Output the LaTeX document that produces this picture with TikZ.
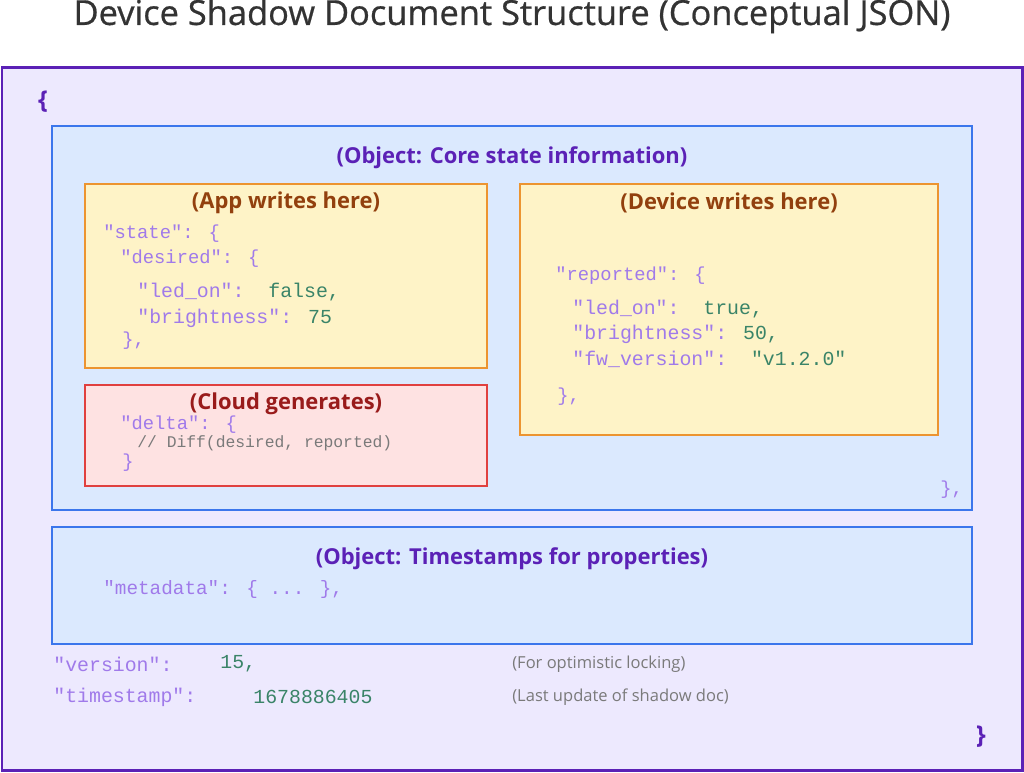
\documentclass[tikz,border=0pt]{standalone}
\usepackage{fontspec}
\setmainfont{Open Sans}
\newfontfamily\codefont{Liberation Mono}
\newfontfamily\titlefont{Open Sans}[FakeBold=0.6]
\usepackage{xcolor}
\definecolor{frameline}{HTML}{5B21B6}
\definecolor{framefill}{HTML}{EDE9FE}
\definecolor{objline}{HTML}{3B76EC}
\definecolor{objfill}{HTML}{DBE9FE}
\definecolor{writeline}{HTML}{EC9430}
\definecolor{writefill}{HTML}{FEF3C7}
\definecolor{writetext}{HTML}{92400E}
\definecolor{cloudline}{HTML}{E0403F}
\definecolor{cloudfill}{HTML}{FEE2E2}
\definecolor{cloudtext}{HTML}{991B1B}
\definecolor{jkeycol}{HTML}{A07AEA}
\definecolor{jvalcol}{HTML}{3A8468}
\definecolor{notecol}{HTML}{7A7A7A}
\newcommand\jk[1]{\textcolor{jkeycol}{#1}}
\newcommand\jv[1]{\textcolor{jvalcol}{#1}}
\usepackage{tikz}

\begin{document}
\begin{tikzpicture}[x=0.02cm, y=-0.02cm,
    heading/.style={font=\fontsize{12.5}{14}\selectfont\bfseries, text=frameline},
    writehead/.style={heading, text=writetext},
    code/.style={anchor=west, inner sep=0pt, font=\codefont\fontsize{10.7}{12}\selectfont},
    codebig/.style={code, font=\codefont\fontsize{11.3}{13}\selectfont},
    note/.style={anchor=west, inner sep=0pt, text=notecol, font=\fontsize{9.4}{11}\selectfont},
    brace/.style={text=frameline, font=\fontsize{14}{16}\selectfont\bfseries}]
    \useasboundingbox (0,0) rectangle (1024,772);
    \fill[white] (0,0) rectangle (1024,772);
    \node[text=black!80, font=\titlefont\fontsize{19.6}{22}\selectfont] (title) at (512,16) {Device Shadow Document Structure (Conceptual JSON)};
    % boxes
    \draw[frameline, fill=framefill, line width=1.7pt] (2,67) rectangle (1022,770);
    \draw[objline, fill=objfill, line width=1.1pt] (52,126) rectangle (972,510);
    \draw[writeline, fill=writefill, line width=0.85pt] (85,184) rectangle (487,368);
    \draw[writeline, fill=writefill, line width=0.85pt] (520,184) rectangle (938,435);
    \draw[cloudline, fill=cloudfill, line width=0.85pt] (85,385) rectangle (487,486);
    \draw[objline, fill=objfill, line width=1.1pt] (52,527) rectangle (972,644);
    \node[brace] (open) at (43,102) {\{};
    \node[brace] (close) at (981,737) {\}};
    % headings
    \node[heading] (corehead) at (512,158) {(Object: Core state information)};
    \node[writehead] (apphead) at (286,203) {(App writes here)};
    \node[writehead] (devhead) at (729,203) {(Device writes here)};
    \node[heading, text=cloudtext] (cloudhead) at (286,404) {(Cloud generates)};
    \node[heading] (metahead) at (512,559) {(Object: Timestamps for properties)};
    % desired
    \node[code] (state) at (103,234) {\jk{"state": \{}};
    \node[code] (desired) at (120,259) {\jk{"desired": \{}};
    \node[codebig] (dled) at (137,292) {\jk{"led\_on":}\ \ \jv{false,}};
    \node[codebig] (dbright) at (137,318) {\jk{"brightness":} \jv{75}};
    \node[code] (dend) at (122,341) {\jk{\},}};
    % reported
    \node[code] (reported) at (555,276) {\jk{"reported": \{}};
    \node[codebig] (rled) at (572,309) {\jk{"led\_on":}\ \ \jv{true,}};
    \node[codebig] (rbright) at (572,334) {\jk{"brightness":} \jv{50,}};
    \node[codebig] (rfw) at (572,359) {\jk{"fw\_version":}\ \ \jv{"v1.2.0"}};
    \node[code] (rend) at (557,397) {\jk{\},}};
    % delta
    \node[code] (delta) at (120,425) {\jk{"delta": \{}};
    \node[code, text=notecol, font=\codefont\fontsize{9.3}{11}\selectfont] (diff) at (137,443) {// Diff(desired, reported)};
    \node[code] (deltaend) at (122,463) {\jk{\}}};
    \node[code] (coreend) at (940,490) {\jk{\},}};
    % metadata and top level fields
    \node[code, font=\codefont\fontsize{11}{13}\selectfont] (meta) at (103,589) {\jk{"metadata": \{ ... \},}};
    \node[codebig] (version) at (53,664) {\jk{"version":}};
    \node[codebig] (versionval) at (220,664) {\jv{15,}};
    \node[codebig] (stamp) at (53,697) {\jk{"timestamp":}};
    \node[codebig] (stampval) at (253,697) {\jv{1678886405}};
    \node[note] (versionnote) at (512,664) {(For optimistic locking)};
    \node[note] (stampnote) at (512,697) {(Last update of shadow doc)};
\end{tikzpicture}
\end{document}
